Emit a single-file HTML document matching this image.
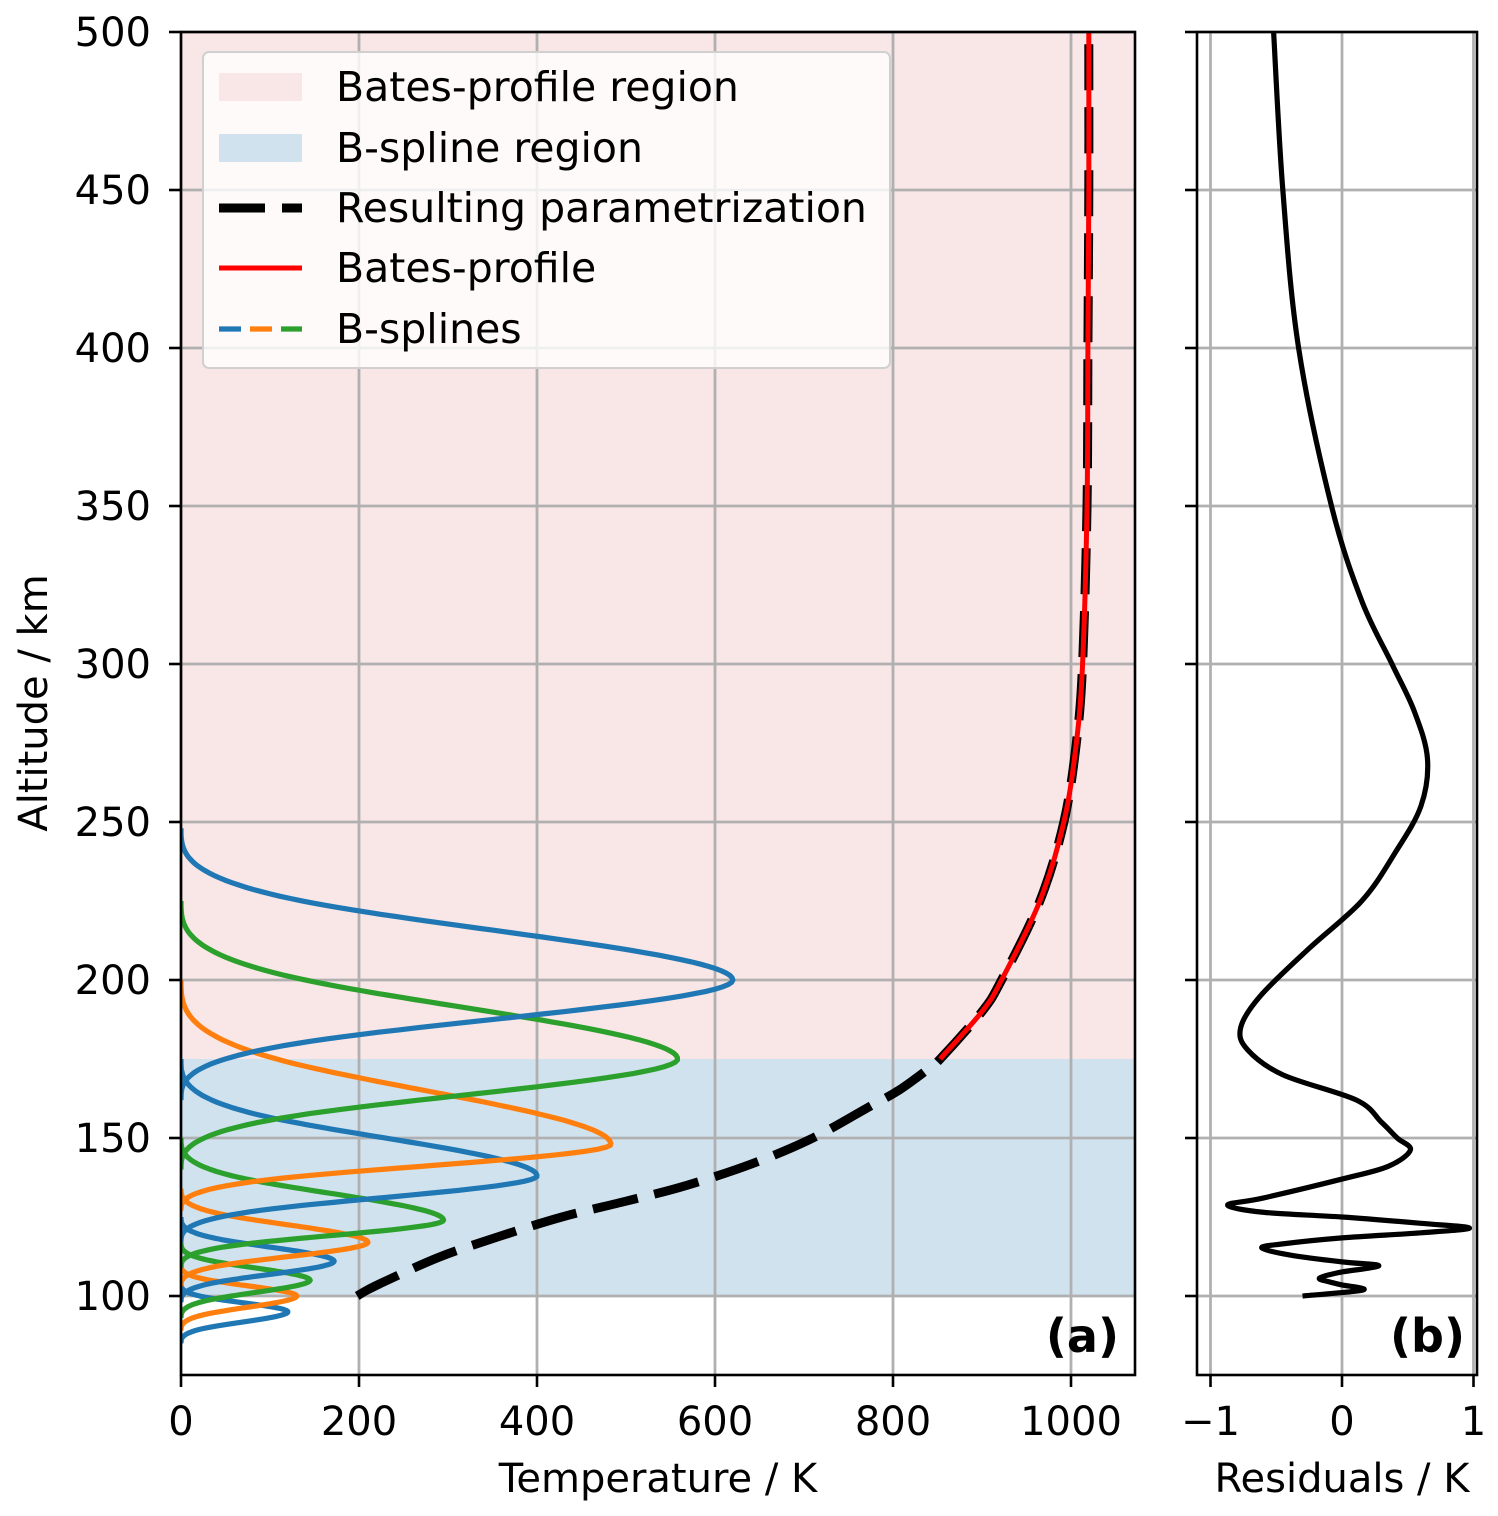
<!DOCTYPE html>
<html><head><meta charset="utf-8"><style>
body{margin:0;background:#fff}
svg{display:block;font-family:"DejaVu Sans","Liberation Sans",sans-serif}
</style></head><body>
<svg id="c" width="1498" height="1516" xmlns="http://www.w3.org/2000/svg"></svg>
<script>
// ---- data ----
const splineColors=["#1f77b4","#ff7f0e","#2ca02c","#1f77b4","#ff7f0e","#2ca02c","#1f77b4","#ff7f0e","#2ca02c","#1f77b4"];
const splinePeakAlt=[95,100,105,111,117,124,138,148,175,200];
const splineAmp=[120,130,145,172,210,295,400,483,558,620];
const splineLo=[85,89,93,98,103,109,117,127,140,162];
const splineHi=[104,110,117,125,134,150,175,200,225,248];
const paramAlt=[100,102,105,112.3,118.7,125,130,135,142,150,160,165,171.5,175,190,200,225,250,275,300,350,400,450,500];
const paramTemp=[198,210,232,290,356,428,500,568,643,710,774,806,838,853,900,922,965,992,1006,1013,1018,1019,1020,1020];
const batesAlt=[175,190,200,225,250,275,300,350,400,450,500];
const batesTemp=[853,900,922,965,992,1006,1013,1018,1019,1020,1020];
const resAlt=[500,450,400,350,320,300,285,270,255,240,225,210,195,185,178,170,162,155,150,146.2,141,137,131,128.8,126.5,125,123,121.5,120,118.4,116.5,115.2,113,110.8,109.8,108.8,107.6,105.7,104.5,103.5,101.9,100];
const resVal=[-0.52,-0.45,-0.33,-0.08,0.15,0.38,0.55,0.65,0.6,0.4,0.15,-0.25,-0.62,-0.77,-0.72,-0.45,0.11,0.3,0.42,0.52,0.35,0.0,-0.6,-0.87,-0.6,0.0,0.6,0.97,0.6,0.0,-0.45,-0.61,-0.4,0.0,0.27,0.2,0.0,-0.17,-0.1,0.0,0.16,-0.3];
const xTicksA=[0,200,400,600,800,1000];
const yTicks=[100,150,200,250,300,350,400,450,500];
const xTicksB=[-1,0,1];

const NS="http://www.w3.org/2000/svg";
const svg=document.getElementById('c');
function el(t,a,p){const e=document.createElementNS(NS,t);for(const k in a)e.setAttribute(k,a[k]);(p||svg).appendChild(e);return e;}
const A={l:181,r:1135,t:32,b:1375};
const B={l:1197,r:1477};
const FS=40;
const yS=z=>1296+(100-z)*3.16;
const xA=T=>181+T*0.89;
const xB=v=>1342+v*131.5;
function smooth(pts){let d="M"+pts[0][0]+","+pts[0][1];for(let i=0;i<pts.length-1;i++){const p0=pts[i-1]||pts[i],p1=pts[i],p2=pts[i+1],p3=pts[i+2]||p2;
d+=" C"+(p1[0]+(p2[0]-p0[0])/6)+","+(p1[1]+(p2[1]-p0[1])/6)+" "+(p2[0]-(p3[0]-p1[0])/6)+","+(p2[1]-(p3[1]-p1[1])/6)+" "+p2[0]+","+p2[1];}return d;}
const defs=el('defs',{});const cp=el('clipPath',{id:'ca'},defs);el('rect',{x:A.l,y:A.t,width:A.r-A.l,height:A.b-A.t},cp);
let r=el('rect',{x:A.l,y:A.t,width:A.r-A.l,height:yS(175)-A.t,fill:"#f9e6e6"});

r=el('rect',{x:A.l,y:yS(175),width:A.r-A.l,height:yS(100)-yS(175),fill:"#d1e2ef"});

const g=el('g',{stroke:"#b0b0b0","stroke-width":2.8});

xTicksA.forEach(t=>el('line',{x1:xA(t),x2:xA(t),y1:A.t,y2:A.b},g));
yTicks.forEach(t=>{el('line',{x1:A.l,x2:A.r,y1:yS(t),y2:yS(t)},g);el('line',{x1:B.l,x2:B.r,y1:yS(t),y2:yS(t)},g);});
xTicksB.forEach(t=>el('line',{x1:xB(t),x2:xB(t),y1:A.t,y2:A.b},g));
const sg=el('g',{"clip-path":"url(#ca)",fill:"none","stroke-width":5.2});
for(let i=0;i<splinePeakAlt.length;i++){
 const lo=splineLo[i],hi=splineHi[i],pk=splinePeakAlt[i],pts=[];
 for(let k=0;k<=120;k++){const z=lo+(hi-lo)*k/120;let u=z<pk?2*(z-lo)/(pk-lo):2+2*(z-pk)/(hi-pk);
  let b;if(u<1)b=u*u*u/6;else if(u<2)b=(-3*u*u*u+12*u*u-12*u+4)/6;else if(u<3){const w=4-u;b=(-3*w*w*w+12*w*w-12*w+4)/6;}else{const w=4-u;b=w*w*w/6;}
  pts.push((xA(splineAmp[i]*b/(2/3))).toFixed(1)+","+yS(z).toFixed(1));}
 const p=el('polyline',{points:pts.join(" "),stroke:splineColors[i]},sg);
 
}
let pp=el('path',{d:smooth(paramAlt.map((z,i)=>[xA(paramTemp[i]),yS(z)])),fill:"none",stroke:"#000","stroke-width":9,"stroke-dasharray":"46,17"});

pp=el('path',{d:smooth(batesAlt.map((z,i)=>[xA(batesTemp[i]),yS(z)])),fill:"none",stroke:"#ff0000","stroke-width":5});

pp=el('path',{d:smooth(resAlt.map((z,i)=>[xB(resVal[i]),yS(z)])),fill:"none",stroke:"#000","stroke-width":5.2});

let f=el('rect',{x:A.l,y:A.t,width:A.r-A.l,height:A.b-A.t,fill:"none",stroke:"#000","stroke-width":2.6});

f=el('rect',{x:B.l,y:A.t,width:B.r-B.l,height:A.b-A.t,fill:"none",stroke:"#000","stroke-width":2.6});

const tg=el('g',{stroke:"#000","stroke-width":2.6});
const lg=el('g',{"font-size":FS,fill:"#000"});
xTicksA.forEach(t=>{el('line',{x1:xA(t),x2:xA(t),y1:A.b,y2:A.b+12},tg);const tx=el('text',{x:xA(t),y:A.b+60,"text-anchor":"middle"},lg);tx.textContent=t;
 });
yTicks.forEach(t=>{el('line',{x1:A.l-12,x2:A.l,y1:yS(t),y2:yS(t)},tg);el('line',{x1:B.l-12,x2:B.l,y1:yS(t),y2:yS(t)},tg);
 const tx=el('text',{x:A.l-30,y:yS(t)+14,"text-anchor":"end"},lg);tx.textContent=t;
 });
xTicksB.forEach(t=>{el('line',{x1:xB(t),x2:xB(t),y1:A.b,y2:A.b+12},tg);const tx=el('text',{x:xB(t),y:A.b+60,"text-anchor":"middle"},lg);tx.textContent=(t<0?"\u2212":"")+Math.abs(t);
 });
let t=el('text',{x:658,y:1492,"text-anchor":"middle","font-size":FS});t.textContent="Temperature / K";

t=el('text',{x:1342,y:1492,"text-anchor":"middle","font-size":FS});t.textContent="Residuals / K";

t=el('text',{x:47,y:703,"text-anchor":"middle","font-size":FS,transform:"rotate(-90 47 703)"});t.textContent="Altitude / km";

t=el('text',{x:1119,y:1352,"text-anchor":"end","font-size":46,"font-weight":"bold"});t.textContent="(a)";

t=el('text',{x:1465,y:1352,"text-anchor":"end","font-size":46,"font-weight":"bold"});t.textContent="(b)";

const lgd=el('g',{});

el('rect',{x:203,y:52,width:687,height:316,rx:6,fill:"#fff","fill-opacity":0.8,stroke:"#d0d0d0","stroke-width":2},lgd);
const names=["Bates-profile region","B-spline region","Resulting parametrization","Bates-profile","B-splines"];
const ly=[87,148,208,268,329];
el('rect',{x:219,y:73,width:83,height:28,fill:"#f9e6e6"},lgd);
el('rect',{x:219,y:134,width:83,height:28,fill:"#d1e2ef"},lgd);
el('line',{x1:219,x2:302,y1:208,y2:208,stroke:"#000","stroke-width":9,"stroke-dasharray":"46,17"},lgd);
el('line',{x1:219,x2:302,y1:268,y2:268,stroke:"#f00","stroke-width":5},lgd);
el('line',{x1:219,x2:241,y1:329,y2:329,stroke:"#1f77b4","stroke-width":5.2},lgd);
el('line',{x1:250,x2:272,y1:329,y2:329,stroke:"#ff7f0e","stroke-width":5.2},lgd);
el('line',{x1:281,x2:302,y1:329,y2:329,stroke:"#2ca02c","stroke-width":5.2},lgd);
names.forEach((n,i)=>{const e=el('text',{x:336,y:ly[i]+14,"font-size":41},lgd);e.textContent=n;
 });
</script>
</body></html>
